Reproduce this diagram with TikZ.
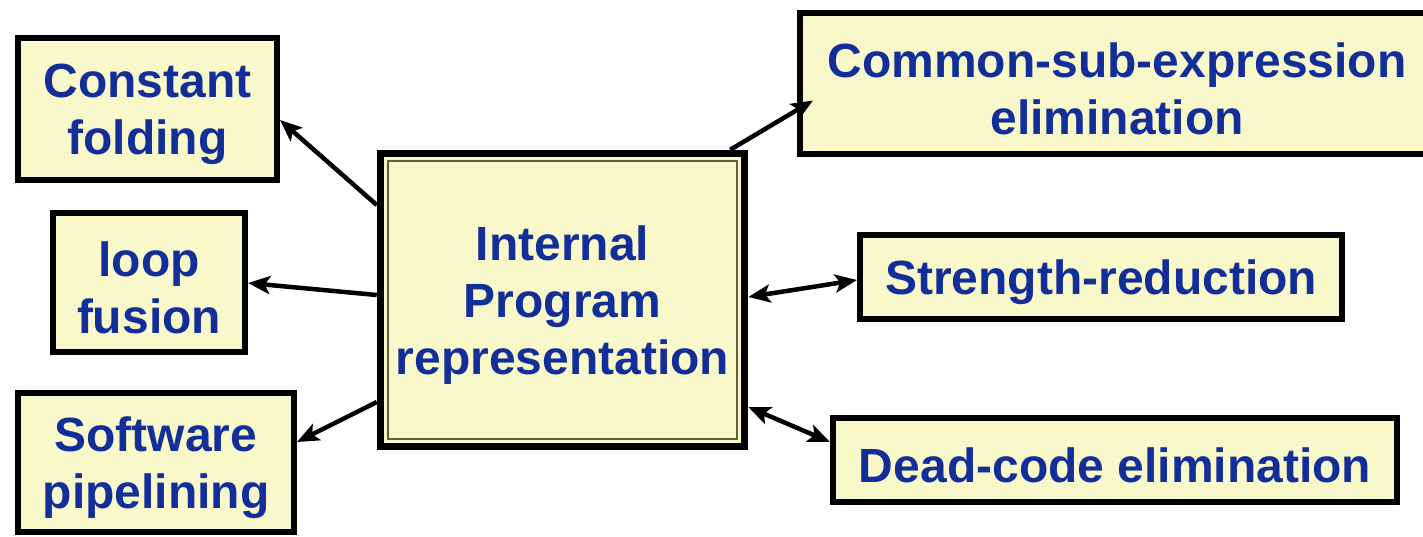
\documentclass[tikz,border=0pt]{standalone}
\usepackage{fontspec}
\setmainfont{Liberation Sans}
\usetikzlibrary{arrows.meta,calc}
\definecolor{boxfill}{RGB}{249,248,202}
\definecolor{boxtext}{RGB}{18,46,152}
\definecolor{innerline}{RGB}{95,95,60}
\begin{document}
\begin{tikzpicture}[x=1pt,y=-1pt,
  optbox/.style={draw=black,line width=6pt,fill=boxfill,inner sep=0pt},
  boxlabel/.style={text=boxtext,font=\fontsize{48}{57}\selectfont\bfseries,
    align=center,inner sep=0pt,yshift=-5pt},
  link/.style={line width=4.5pt,-{Stealth[length=22pt,width=18pt,inset=5pt]}},
  twoway/.style={line width=4.5pt,{Stealth[length=22pt,width=18pt,inset=5pt]}-{Stealth[length=22pt,width=18pt,inset=5pt]}}]
\useasboundingbox[fill=white] (0,0) rectangle (1423,537);

% central representation box with a double frame
\node[optbox,line width=7.5pt,minimum width=364pt,minimum height=293pt] (ipr) at (562.5,300) {};
\draw[innerline,line width=2pt] ($(ipr.north west)+(11,11)$) rectangle ($(ipr.south east)+(-11,-11)$);
\node[boxlabel] (ipr-t) at (ipr.center) {Internal\\Program\\representation};

% optimisations on the left
\node[optbox,minimum width=259pt,minimum height=142pt] (cf) at (147.5,109) {};
\node[boxlabel] (cf-t) at (cf.center) {Constant\\folding};
\node[optbox,minimum width=192pt,minimum height=139pt] (lf) at (149,282.5) {};
\node[boxlabel] (lf-t) at (lf.center) {loop\\fusion};
\node[optbox,minimum width=276pt,minimum height=139pt] (sp) at (156,462.5) {};
\node[boxlabel] (sp-t) at (sp.center) {Software\\pipelining};

% optimisations on the right
\node[optbox,minimum width=630pt,minimum height=141pt] (cse) at (1115,83.5) {};
\node[boxlabel] (cse-t) at ([xshift=2pt]cse.center) {Common-sub-expression\\elimination};
\node[optbox,minimum width=482pt,minimum height=84pt] (sr) at (1101,277) {};
\node[boxlabel] (sr-t) at (sr.center) {Strength-reduction};
\node[optbox,minimum width=564pt,minimum height=84pt] (dc) at (1115,460) {};
\node[boxlabel] (dc-t) at (dc.center) {Dead-code elimination};

% connectors
\draw[link] ([yshift=95pt]ipr.west) -- ([yshift=-11pt]cf.east);
\draw[link] ([yshift=5pt]ipr.west) -- ([yshift=-0.5pt]lf.east);
\draw[link] ([yshift=-102pt]ipr.west) -- ([yshift=20.5pt]sp.east);
\draw[link] ([xshift=-18pt]ipr.north east) -- ([xshift=16pt,yshift=-17pt]cse.west);
\draw[twoway] ([yshift=3pt]ipr.east) -- ([yshift=-3pt]sr.west);
\draw[twoway] ([yshift=-107pt]ipr.east) -- ([yshift=18pt]dc.west);
\end{tikzpicture}
\end{document}
